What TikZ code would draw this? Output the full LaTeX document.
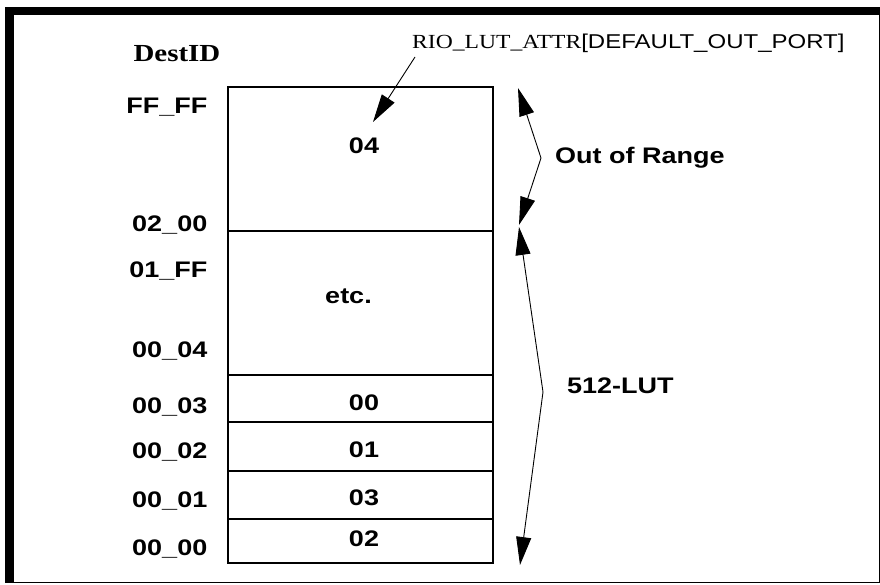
\documentclass[tikz,border=0pt]{standalone}
\usepackage{fontspec}
\usepackage{tikz}
\usetikzlibrary{arrows.meta}

\setmainfont{Liberation Serif}
\newfontfamily\lutsans{Liberation Sans}[FakeStretch=1.2]
\newfontfamily\lutserif{Liberation Serif}[FakeStretch=1.18]

\tikzset{
	lbl/.style={font=\lutsans\bfseries\fontsize{22.5}{26}\selectfont, inner sep=0pt},
	addr/.style={lbl, anchor=base east},
	val/.style={lbl, anchor=base},
	head/.style={font=\lutserif\bfseries\fontsize{24.5}{28}\selectfont, inner sep=0pt, anchor=base east},
	cell/.style={line width=1.5pt},
	tip/.style={-{Triangle[length=28pt,width=15pt]}, line width=0.9pt},
}

\begin{document}
\begin{tikzpicture}[x=1pt,y=-1pt]

	\useasboundingbox (0,0) rectangle (880,584);
	\fill[white] (0,0) rectangle (880,584);

	\draw[line width=8pt] (5,11) -- (880,11);
	\draw[line width=9pt] (9.5,7) -- (9.5,583);
	\draw[line width=1pt] (5,582) -- (880,582) (879.5,7) -- (879.5,582);

	\coordinate (tl) at (228,87);
	\coordinate (br) at (493,563);

	\draw[cell] (tl) rectangle (br);
	\foreach \y in {231,375,422,471,519}
		\draw[cell] (228,\y) -- (493,\y);

	\node[head] (destid) at (220.5,61.7) {DestID};
	\node[addr] (ffff) at (207.5,113.3) {FF\_FF};
	\node[addr] (a0200) at (207.5,231.5) {02\_00};
	\node[addr] (a01ff) at (207.5,277) {01\_FF};
	\node[addr] (a0004) at (207.5,357) {00\_04};
	\node[addr] (a0003) at (207.5,413) {00\_03};
	\node[addr] (a0002) at (207.5,458.7) {00\_02};
	\node[addr] (a0001) at (207.5,507) {00\_01};
	\node[addr] (a0000) at (207.5,555) {00\_00};

	\node[val] (v04) at (364,153) {04};
	\node[val] (vetc) at (348.5,303) {etc.};
	\node[val] (v00) at (364,410) {00};
	\node[val] (v01) at (364,457) {01};
	\node[val] (v03) at (364,505) {03};
	\node[val] (v02) at (364,546) {02};

	\node[lbl, anchor=base west] (oor) at (555,163.3) {Out of Range};
	\node[lbl, anchor=base west] (lut) at (567,393) {512-LUT};
	\node[inner sep=0pt, anchor=base west, font=\fontsize{20}{24}\selectfont] (rio) at (412,48.3)
		{\lutserif RIO\_LUT\_ATTR\lutsans [DEFAULT\_OUT\_PORT]};

	\coordinate (rioS) at (415,57);
	\coordinate (rioE) at (373,122);
	\coordinate (oorA) at (541,158);
	\coordinate (oorT) at (518,88);
	\coordinate (oorB) at (519,225);
	\coordinate (lutA) at (543,392);
	\coordinate (lutT) at (519,227);
	\coordinate (lutB) at (520,565);

	\draw[tip] (rioS) -- (rioE);
	\draw[tip] (oorA) -- (oorT);
	\draw[tip] (oorA) -- (oorB);
	\draw[tip] (lutA) -- (lutT);
	\draw[tip] (lutA) -- (lutB);

\end{tikzpicture}
\end{document}
